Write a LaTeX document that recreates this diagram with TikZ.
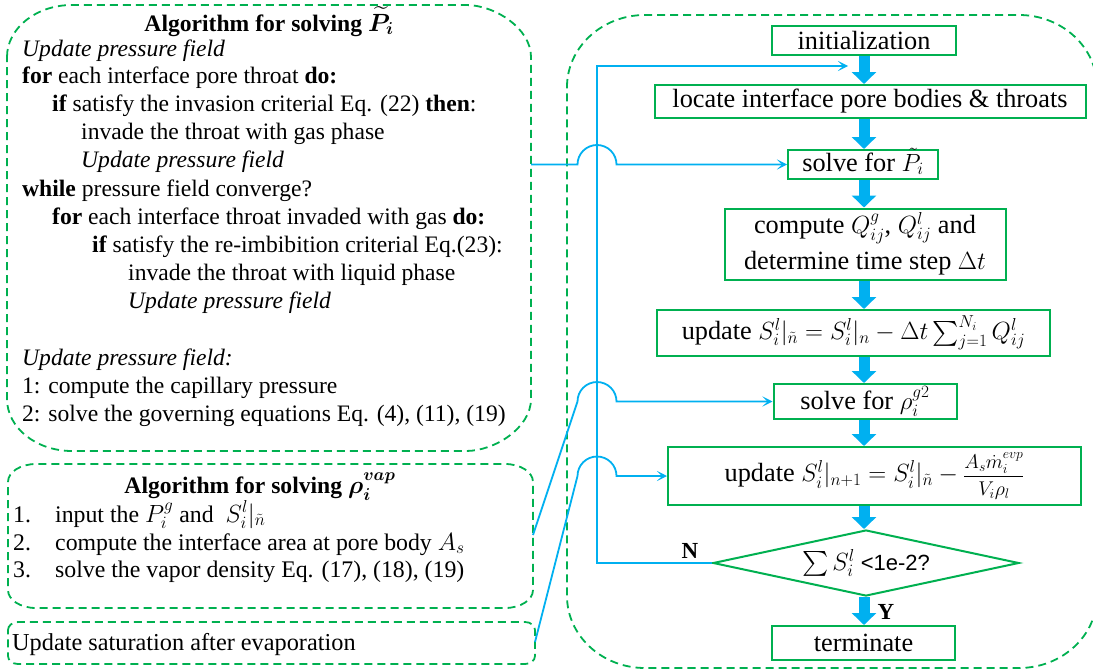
\documentclass[tikz,border=0pt]{standalone}
\usepackage{amsmath}
\usepackage{graphicx}
\usepackage{fontspec}
\setmainfont{Liberation Serif}
\newfontfamily\sansf{Liberation Sans}
\usetikzlibrary{arrows.meta,shapes.geometric,calc}
\definecolor{fgreen}{RGB}{0,176,80}
\definecolor{fblue}{RGB}{0,176,240}
\begin{document}
\begin{tikzpicture}[x=1pt,y=-1pt,
  dbox/.style={draw=fgreen, line width=1.8pt, dash pattern=on 8pt off 5pt},
  fcbox/.style={draw=fgreen, line width=2pt, inner sep=0pt, align=center,
     font=\fontsize{26.3}{36}\selectfont},
  ltext/.style={anchor=base west, inner sep=0pt, font=\fontsize{23.6}{28}\selectfont},
  mtext/.style={anchor=base west, inner sep=0pt, font=\fontsize{23.8}{28}\selectfont},
  ttext/.style={anchor=base, inner sep=0pt, font=\fontsize{23.6}{28}\selectfont\bfseries},
  bline/.style={draw=fblue, line width=1.8pt},
  barrow/.style={bline, -{Stealth[length=10pt,width=10pt,inset=5pt]}},
  tarrow/.style={draw=fblue, line width=11pt, -{Triangle[width=24pt,length=12pt]}},
  lbl/.style={inner sep=0pt, font=\fontsize{23}{28}\selectfont\bfseries}]
\useasboundingbox (0,0) rectangle (1093,672);

% ---------- dashed containers (elliptic corners) ----------
% box 1: x 7..531, y 5..451, rx 65, ry 52
\draw[dbox] (7,57) .. controls (7,28.3) and (36.1,5) .. (72,5) -- (466,5)
  .. controls (494.9,5) and (531,28.3) .. (531,57) -- (531,399)
  .. controls (531,427.7) and (494.9,451) .. (466,451) -- (72,451)
  .. controls (36.1,451) and (7,427.7) .. (7,399) -- cycle;
% box 2: x 8..533, y 464..608, rx 28, ry 18
\draw[dbox] (8,482) .. controls (8,472) and (20.5,464) .. (36,464) -- (505,464)
  .. controls (520.5,464) and (533,472) .. (533,482) -- (533,590)
  .. controls (533,600) and (520.5,608) .. (505,608) -- (36,608)
  .. controls (20.5,608) and (8,600) .. (8,590) -- cycle;
% box 3: x 8..535, y 622..664, rx 10, ry 8
\draw[dbox] (8,630) .. controls (8,625.6) and (12.5,622) .. (18,622) -- (525,622)
  .. controls (530.5,622) and (535,625.6) .. (535,630) -- (535,656)
  .. controls (535,660.4) and (530.5,664) .. (525,664) -- (18,664)
  .. controls (12.5,664) and (8,660.4) .. (8,656) -- cycle;
% container: x 567..1097, y 15..668, rx 78, ry 72
\draw[dbox] (567,87) .. controls (567,47.3) and (602,15) .. (645,15) -- (1019,15)
  .. controls (1062,15) and (1097,47.3) .. (1097,87) -- (1097,596)
  .. controls (1097,635.7) and (1062,668) .. (1019,668) -- (645,668)
  .. controls (602,668) and (567,635.7) .. (567,596) -- cycle;

% ---------- algorithm for P ----------
\node[ttext] (t0) at (269,31) {Algorithm for solving $\boldsymbol{\widetilde{P}_i}$};
\node[ltext] (t1) at (22,56) {\textit{Update pressure field}};
\node[ltext] (t2) at (22,83.5) {\textbf{for} each interface pore throat \textbf{do:}};
\node[ltext] (t3) at (52,111.5) {\textbf{if} satisfy the invasion criterial Eq. (22) \textbf{then}:};
\node[ltext] (t4) at (81,139.5) {invade the throat with gas phase};
\node[ltext] (t5) at (81,167.5) {\textit{Update pressure field}};
\node[ltext] (t6) at (22,196) {\textbf{while} pressure field converge?};
\node[ltext] (t7) at (52,224) {\textbf{for} each interface throat invaded with gas \textbf{do:}};
\node[ltext] (t8) at (92,252) {\textbf{if} satisfy the re-imbibition criterial Eq.(23):};
\node[ltext] (t9) at (128,280.5) {invade the throat with liquid phase};
\node[ltext] (t10) at (128,308.5) {\textit{Update pressure field}};
\node[ltext] (t11) at (22,365) {\textit{Update pressure field:}};
\node[ltext] (t12) at (22,393) {1: compute the capillary pressure};
\node[ltext] (t13) at (22,421.5) {2: solve the governing equations Eq. (4), (11), (19)};

% ---------- algorithm for rho ----------
\node[ttext] (u0) at (260,493) {Algorithm for solving $\boldsymbol{\rho_i^{vap}}$};
\node[mtext] (u1) at (13,522) {\makebox[42pt][l]{1.}input the $P_i^g$ and \ $S_i^l|_{\tilde n}$};
\node[mtext] (u2) at (13,550) {\makebox[42pt][l]{2.}compute the interface area at pore body $A_s$};
\node[mtext] (u3) at (13,577.5) {\makebox[42pt][l]{3.}solve the vapor density Eq. (17), (18), (19)};
\node[mtext, font=\fontsize{24.3}{28}\selectfont] (v0) at (12,650) {Update saturation after evaporation};

% ---------- flowchart ----------
\node[fcbox, minimum width=184pt, minimum height=29pt] (init) at (864,40.5) {initialization};
\node[fcbox, minimum width=431pt, minimum height=33pt] (locate) at (870,101.5) {locate interface pore bodies \& throats};
\node[fcbox, minimum width=150pt, minimum height=29pt, text height=16pt, text depth=3pt] (solveP) at (863,164.5) {solve for $\tilde{P}_i$};
\node[fcbox, minimum width=281pt, minimum height=71pt] (compute) at (865,244) {compute $Q_{ij}^g$, $Q_{ij}^l$ and\\determine time step $\Delta t$};
\node[fcbox, minimum width=393pt, minimum height=46pt] (update1) at (853.5,333) {update $S_i^l|_{\tilde n}=S_i^l|_n-\Delta t\sum_{j=1}^{N_i}Q_{ij}^l$};
\node[fcbox, minimum width=183pt, minimum height=35pt] (solveRho) at (865,401.5) {solve for $\rho_i^{g2}$};
\node[fcbox, minimum width=413pt, minimum height=58pt] (update2) at (874.5,476) {update $S_i^l|_{n+1}=S_i^l|_{\tilde n}-{}$\scalebox{0.8}{$\dfrac{A_s\dot m_i^{evp}}{V_i\rho_l}$}};
\node[diamond, draw=fgreen, line width=2pt, inner sep=0pt, shape aspect=4.6, minimum width=306pt, minimum height=66pt, font=\fontsize{24}{28}\selectfont] (dia) at (866,563) {$\sum S_i^l$ {\sansf\fontsize{22}{26}\selectfont <1e-2?}};
\node[fcbox, minimum width=183pt, minimum height=34pt] (term) at (863.5,643) {terminate};

% ---------- thick arrows ----------
\coordinate (col) at (864,0);
\foreach \a/\b in {init/locate, locate/solveP, solveP/compute, compute/update1, update1/solveRho, solveRho/update2, update2/dia, dia/term}
  \draw[tarrow] (col |- \a.south) -- (col |- \b.north);

\node[lbl] (Y) at (886,612) {Y};
\node[lbl] (N) at (690,551) {N};

% ---------- loop back ----------
\coordinate (loopx) at (597,0);
\coordinate (bumpL) at (577.5,0);
\coordinate (looptip) at (848,66);
\draw[barrow] (dia.west) -| (loopx |- looptip) -- (looptip);

% ---------- links from the algorithm boxes ----------
\coordinate (b1out) at (531,164.5);
\coordinate (b2out) at (533,535);
\coordinate (b3out) at (535,642);
\draw[barrow] (b1out) -- (bumpL |- solveP.west) arc[start angle=180,end angle=0,radius=19.5pt] -- (solveP.west);
\draw[barrow] (b2out) -- (bumpL |- solveRho.west) arc[start angle=180,end angle=0,radius=19.5pt] -- (solveRho.west);
\draw[barrow] (b3out) -- (bumpL |- update2.west) arc[start angle=180,end angle=0,radius=19.5pt] -- (update2.west);
\end{tikzpicture}
\end{document}
